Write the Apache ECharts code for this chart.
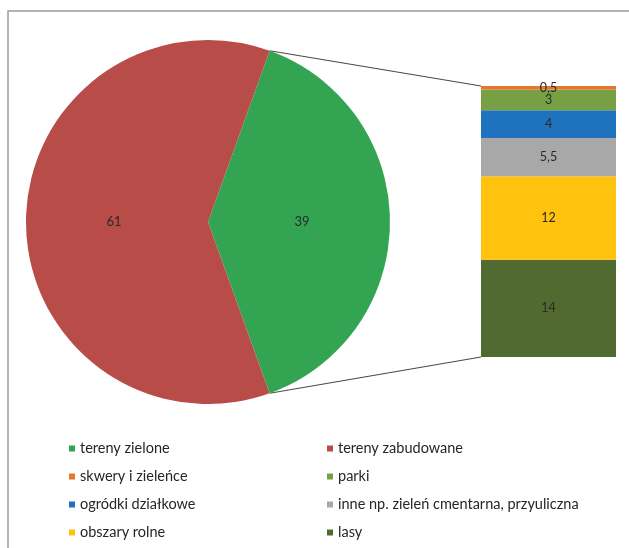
<!DOCTYPE html>
<html>
<head>
<meta charset="utf-8">
<script src="https://cdn.jsdelivr.net/npm/echarts@6/dist/echarts.min.js"></script>
<style>
  html, body { margin: 0; padding: 0; background: #fff; }
  #chart { width: 629px; height: 548px; }
</style>
</head>
<body>
<div id="chart"></div>
<script>
// Land use share (%): pie of the whole, bar breaking down green areas
const pieNames = ['tereny zielone', 'tereny zabudowane'];
const pieValues = [39, 61];
const pieColors = ['#33a552', '#b84c49'];

// Breakdown of "tereny zielone", listed top to bottom of the bar
const barNames = ['skwery i zieleńce', 'parki', 'ogródki działkowe',
  'inne np. zieleń cmentarna, przyuliczna', 'obszary rolne', 'lasy'];
const barValues = [0.5, 3, 4, 5.5, 12, 14];
const barColors = ['#e8772e', '#76a043', '#1f72bd', '#a8a8a8', '#ffc20e', '#516a2f'];

const legendLeft = ['tereny zielone', 'skwery i zieleńce', 'ogródki działkowe', 'obszary rolne'];
const legendRight = ['tereny zabudowane', 'parki', 'inne np. zieleń cmentarna, przyuliczna', 'lasy'];

const FONT = 'Lato';
const fmt = v => String(v).replace('.', ',');

const PIE_CENTER = [208, 222];
const PIE_R = 182;
// green slice is centred on the right side (3 o'clock)
const HALF_GREEN_DEG = 360 * pieValues[0] / 100 / 2;

const chart = echarts.init(document.getElementById('chart'), null, { renderer: 'canvas' });

// stack from the bottom: reverse so the last listed item sits at the base
const barSeries = barNames.map((name, i) => ({ name, value: barValues[i], color: barColors[i] }))
  .reverse()
  .map(d => ({
    name: d.name,
    type: 'bar',
    stack: 'green',
    barWidth: '100%',
    data: [d.value],
    itemStyle: { color: d.color },
    label: {
      show: true,
      position: 'inside',
      formatter: p => fmt(p.value),
      color: '#2a2a2a',
      fontFamily: FONT,
      fontSize: 12.5
    },
    emphasis: { disabled: true }
  }));

const legendCommon = {
  orient: 'vertical',
  icon: 'rect',
  padding: 0,
  height: 200,
  itemWidth: 6,
  itemHeight: 6,
  itemGap: 13,
  textStyle: { fontFamily: FONT, fontSize: 14.5, color: '#262626', lineHeight: 15 },
  selectedMode: false
};

chart.setOption({
  animation: false,
  backgroundColor: '#fff',
  grid: { left: 481, top: 86, width: 135, height: 271 },
  xAxis: { type: 'category', data: ['zielone'], show: false },
  yAxis: { type: 'value', min: 0, max: 39, show: false },
  legend: [
    Object.assign({ left: 69, top: 441, data: legendLeft }, legendCommon),
    Object.assign({ left: 327, top: 441, data: legendRight }, legendCommon)
  ],
  series: [
    {
      type: 'pie',
      center: PIE_CENTER,
      radius: PIE_R,
      startAngle: HALF_GREEN_DEG,
      clockwise: true,
      label: {
        show: true,
        position: 'inner',
        formatter: p => fmt(p.value),
        color: '#2a2a2a',
        fontFamily: FONT,
        fontSize: 13
      },
      labelLine: { show: false },
      emphasis: { disabled: true },
      data: pieNames.map((n, i) => ({ name: n, value: pieValues[i], itemStyle: { color: pieColors[i] } }))
    }
  ].concat(barSeries)
});

// connector lines from the green slice edges to the bar corners
const half = HALF_GREEN_DEG * Math.PI / 180;
const topPie = [PIE_CENTER[0] + PIE_R * Math.cos(half), PIE_CENTER[1] - PIE_R * Math.sin(half)];
const botPie = [PIE_CENTER[0] + PIE_R * Math.cos(half), PIE_CENTER[1] + PIE_R * Math.sin(half)];
const total = barValues.reduce((a, b) => a + b, 0);
const barTop = chart.convertToPixel({ gridIndex: 0 }, [0, total]);
const barBot = chart.convertToPixel({ gridIndex: 0 }, [0, 0]);
const barLeftX = 481;

chart.setOption({
  graphic: [
    {
      type: 'rect',
      shape: { x: 8, y: 11, width: 700, height: 600 },
      style: { fill: 'none', stroke: '#9a9a9a', lineWidth: 1.5 },
      silent: true
    },
    {
      type: 'line',
      shape: { x1: topPie[0], y1: topPie[1], x2: barLeftX, y2: barTop[1] },
      style: { stroke: '#4a4a4a', lineWidth: 1.2 },
      silent: true
    },
    {
      type: 'line',
      shape: { x1: botPie[0], y1: botPie[1], x2: barLeftX, y2: barBot[1] },
      style: { stroke: '#4a4a4a', lineWidth: 1.2 },
      silent: true
    }
  ]
});
</script>
</body>
</html>
